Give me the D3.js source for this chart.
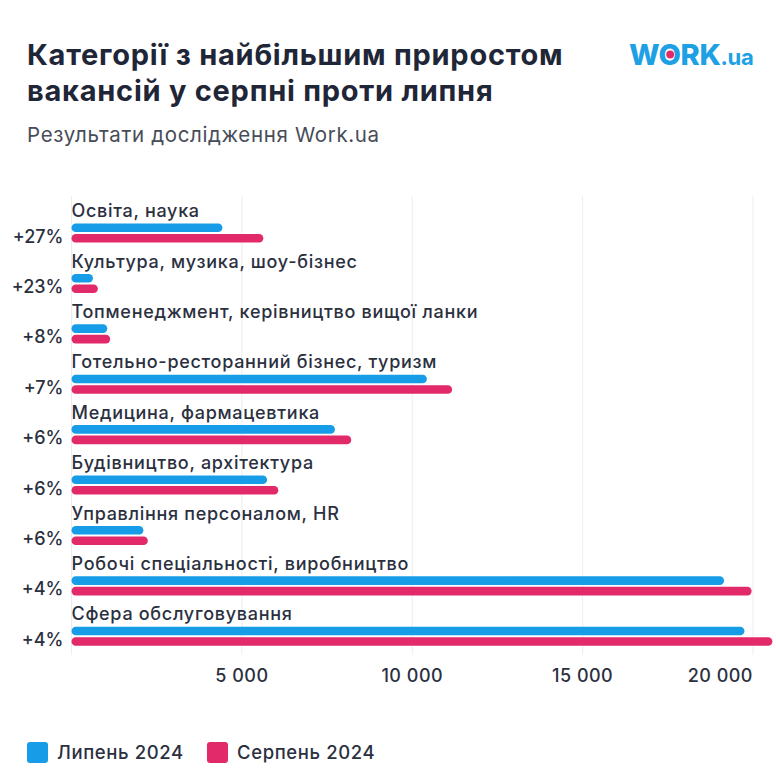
<!DOCTYPE html>
<html>
<head>
<meta charset="utf-8">
<script src="https://cdn.jsdelivr.net/npm/d3@7"></script>
<style>
  body { margin: 0; background: #fff; }
  svg { display: block; font-family: Inter, "Noto Sans", sans-serif; }
</style>
</head>
<body>
<svg id="chart"></svg>
<script>
// data
var categories = [
    "Освіта, наука",
    "Культура, музика, шоу-бізнес",
    "Топменеджмент, керівництво вищої ланки",
    "Готельно-ресторанний бізнес, туризм",
    "Медицина, фармацевтика",
    "Будівництво, архітектура",
    "Управління персоналом, HR",
    "Робочі спеціальності, виробництво",
    "Сфера обслуговування"
];
var july = [4430, 630, 1050, 10430, 7730, 5740, 2110, 19150, 19750];
var august = [5630, 775, 1135, 11170, 8210, 6070, 2240, 19960, 20570];
var growth = ["+27%", "+23%", "+8%", "+7%", "+6%", "+6%", "+6%", "+4%", "+4%"];
var tickValues = [5000, 10000, 15000, 20000];
var seriesNames = ["Липень 2024", "Серпень 2024"];

var width = 776, height = 768;
var blue = "#179ce8", pink = "#e2296a", ink = "#2b303f";

var svg = d3.select("#chart")
    .attr("width", width)
    .attr("height", height);

// title
svg.append("text")
    .attr("x", 27).attr("y", 65)
    .attr("font-size", 29).attr("font-weight", 700).attr("fill", "#1f2637")
    .attr("letter-spacing", 0.75)
    .text("Категорії з найбільшим приростом");
svg.append("text")
    .attr("x", 27).attr("y", 101)
    .attr("font-size", 29).attr("font-weight", 700).attr("fill", "#1f2637")
    .attr("letter-spacing", 0.75)
    .text("вакансій у серпні проти липня");
svg.append("text")
    .attr("x", 27).attr("y", 142)
    .attr("font-size", 20.5).attr("font-weight", 400).attr("fill", "#474c58")
    .attr("letter-spacing", 0.65)
    .text("Результати дослідження Work.ua");

// logo
var logo = svg.append("g").attr("transform", "translate(629,65)");
var logoText = logo.append("text")
    .attr("font-size", 29).attr("font-weight", 800).attr("fill", "#1ea0e4")
    .attr("letter-spacing", -0.3);
logoText.append("tspan").text("WORK");
logoText.append("tspan").attr("font-size", 22).attr("font-weight", 700).text(".ua");
var wWidth = svg.append("text").attr("font-size", 29).attr("font-weight", 800)
    .attr("letter-spacing", -0.3).text("W");
var oW = svg.append("text").attr("font-size", 29).attr("font-weight", 800)
    .attr("letter-spacing", -0.3).text("O");
var ox = wWidth.node().getComputedTextLength() + oW.node().getComputedTextLength() / 2 - 0.3;
wWidth.remove(); oW.remove();
logo.append("circle").attr("cx", ox).attr("cy", -10.5).attr("r", 3.9).attr("fill", pink);

// scales
var x = d3.scaleLinear().domain([0, 20000]).range([71.5, 753]);
var y = d3.scaleBand().domain(categories).range([199, 199 + 50.4 * categories.length]);

var fmt = d3.formatLocale({ decimal: ",", thousands: " ", grouping: [3], currency: ["", ""] }).format(",d");

// grid
var grid = svg.append("g");
grid.selectAll("line")
    .data([0].concat(tickValues))
    .join("line")
    .attr("x1", d => x(d)).attr("x2", d => x(d))
    .attr("y1", 196).attr("y2", 655)
    .attr("stroke", "#ededed").attr("stroke-width", 1);

// tick labels
svg.append("g").selectAll("text")
    .data(tickValues)
    .join("text")
    .attr("x", d => x(d))
    .attr("text-anchor", (d, i) => i === tickValues.length - 1 ? "end" : "middle")
    .attr("y", 682)
    .attr("font-size", 18).attr("font-weight", 500).attr("fill", ink)
    .attr("letter-spacing", 0.5)
    .text(d => fmt(d));

// rows
var rows = svg.append("g").selectAll("g")
    .data(categories)
    .join("g")
    .attr("transform", d => "translate(0," + y(d) + ")");

rows.append("text")
    .attr("x", x(0)).attr("y", 18.3)
    .attr("font-size", 18).attr("font-weight", 500).attr("fill", ink)
    .attr("letter-spacing", 0.7)
    .text(d => d);

rows.append("text")
    .attr("x", 63.5).attr("y", 43.5)
    .attr("text-anchor", "end")
    .attr("font-size", 18).attr("font-weight", 500).attr("fill", ink)
    .text((d, i) => growth[i]);

var barH = 8.6;
rows.append("rect")
    .attr("x", x(0)).attr("y", 24.5)
    .attr("width", (d, i) => x(july[i]) - x(0))
    .attr("height", barH).attr("rx", barH / 2)
    .attr("fill", blue);

rows.append("rect")
    .attr("x", x(0)).attr("y", 35)
    .attr("width", (d, i) => x(august[i]) - x(0))
    .attr("height", barH).attr("rx", barH / 2)
    .attr("fill", pink);

// legend
var legend = svg.append("g").selectAll("g")
    .data(seriesNames)
    .join("g")
    .attr("transform", (d, i) => "translate(" + (i === 0 ? 27 : 207) + ",742)");
legend.append("rect")
    .attr("width", 21).attr("height", 21).attr("rx", 3)
    .attr("fill", (d, i) => i === 0 ? blue : pink);
legend.append("text")
    .attr("x", 30).attr("y", 17)
    .attr("font-size", 18.5).attr("font-weight", 500).attr("fill", ink)
    .attr("letter-spacing", 0.6)
    .text(d => d);
</script>
</body>
</html>
